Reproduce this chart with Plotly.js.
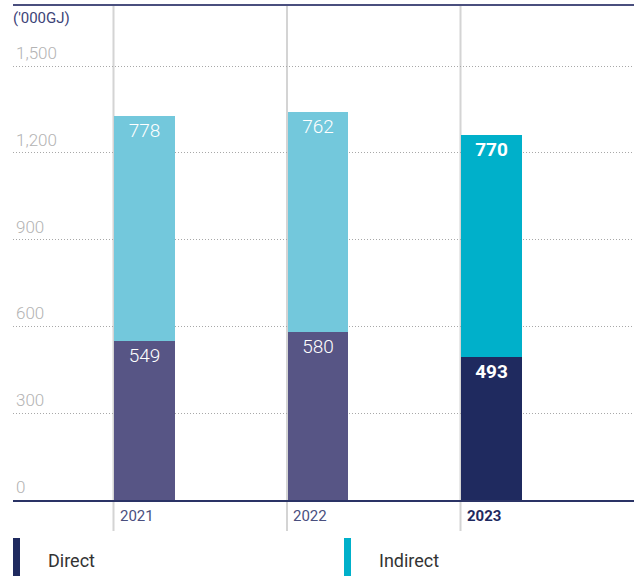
<!DOCTYPE html>
<html>
<head>
<meta charset="utf-8">
<script src="https://cdn.plot.ly/plotly-3.0.1.min.js"></script>
<style>html,body{margin:0;padding:0;background:#fff;}#chart{width:634px;height:576px;}</style>
</head>
<body>
<div id="chart"></div>
<script>
var years = ['2021', '2022', '2023'];
var direct = [549, 580, 493];
var indirect = [778, 762, 770];
var directColors = ['#575585', '#575585', '#1f2a5f'];
var indirectColors = ['#73c8dc', '#73c8dc', '#00b0ca'];
var yTickVals = [0, 300, 600, 900, 1200, 1500];
var yTickText = ['0', '300', '600', '900', '1,200', '1,500'];
var unitLabel = "('000GJ)";
var legendNames = ['Direct', 'Indirect'];
var legendColors = ['#1f2a5f', '#00b0ca'];

var xs = years.map(function (_, i) { return i; });
var bold = function (s, i) { return i === years.length - 1 ? '<b>' + s + '</b>' : s; };

var common = {
  type: 'bar', x: xs, width: 0.35, offset: 0.004,
  textposition: 'inside', insidetextanchor: 'end',
  textangle: 0, hoverinfo: 'skip', showlegend: false,
  insidetextfont: { family: 'Roboto, sans-serif', size: 19, color: '#ffffff', weight: 300 }
};
var tDirect = Object.assign({}, common, {
  y: direct, marker: { color: directColors },
  text: direct.map(function (v, i) { return bold(String(v), i); })
});
var tIndirect = Object.assign({}, common, {
  y: indirect, marker: { color: indirectColors },
  text: indirect.map(function (v, i) { return bold(String(v), i); })
});

var W = 634, H = 576, mL = 13, mR = 0, mT = 5, mB = 76;
var pw = W - mL - mR, ph = H - mT - mB;
function px2paperX(p) { return (p - mL) / pw; }
function px2paperY(p) { return (H - mB - p) / ph; }

var shapes = [];
xs.forEach(function (x) {
  shapes.push({ type: 'line', xref: 'x', yref: 'paper', x0: x, x1: x, y0: px2paperY(531), y1: 1,
    line: { color: '#d4d4d4', width: 2 }, layer: 'below' });
});
shapes.push({ type: 'line', xref: 'paper', yref: 'paper', x0: 0, x1: 1, y0: 1, y1: 1,
  line: { color: '#4a4f7e', width: 2 } });

var annotations = [{
  text: unitLabel, xref: 'paper', yref: 'paper', x: px2paperX(11), y: px2paperY(18),
  xanchor: 'left', yanchor: 'middle', showarrow: false,
  font: { family: 'Roboto, sans-serif', size: 15, color: '#3d4478' }
}];
years.forEach(function (yr, i) {
  annotations.push({
    text: bold(yr, i), xref: 'x', yref: 'paper', x: i + 0.025, y: px2paperY(516),
    xanchor: 'left', yanchor: 'middle', showarrow: false,
    font: { family: 'Roboto, sans-serif', size: 15, color: i === years.length - 1 ? '#1f2a5f' : '#4a4f7e' }
  });
});
var legX = [13, 344], legTextX = [46, 377];
legendNames.forEach(function (n, i) {
  shapes.push({ type: 'rect', xref: 'paper', yref: 'paper',
    x0: px2paperX(legX[i]), x1: px2paperX(legX[i] + 7), y0: px2paperY(538), y1: px2paperY(580),
    fillcolor: legendColors[i], line: { width: 0 } });
  annotations.push({
    text: n, xref: 'paper', yref: 'paper', x: px2paperX(legTextX[i]), y: px2paperY(560),
    xanchor: 'left', yanchor: 'middle', showarrow: false,
    font: { family: 'Roboto, sans-serif', size: 18, color: '#333333' }
  });
});

var layout = {
  width: W, height: H, barmode: 'stack',
  margin: { l: mL, r: mR, t: mT, b: mB, pad: 0 },
  paper_bgcolor: '#ffffff', plot_bgcolor: '#ffffff',
  xaxis: {
    range: [(mL - 113.5) / 173.5, (W - 113.5) / 173.5],
    showgrid: false, zeroline: false, showticklabels: false, ticks: '',
    showline: true, linecolor: '#2a3365', linewidth: 2, fixedrange: true
  },
  yaxis: {
    range: [0, 1711], tickvals: yTickVals, ticktext: yTickText,
    ticklabelposition: 'inside top', ticks: '', ticklabelshift: -1,
    tickfont: { family: 'Roboto, sans-serif', size: 17, color: '#b3b3b3', weight: 300 },
    showgrid: true, gridcolor: '#a8a8a8', griddash: '1px,2px', gridwidth: 1,
    zeroline: false, showline: false, fixedrange: true
  },
  shapes: shapes, annotations: annotations,
  uniformtext: { mode: false }
};

Plotly.newPlot('chart', [tDirect, tIndirect], layout, { displayModeBar: false, staticPlot: true });
</script>
</body>
</html>
